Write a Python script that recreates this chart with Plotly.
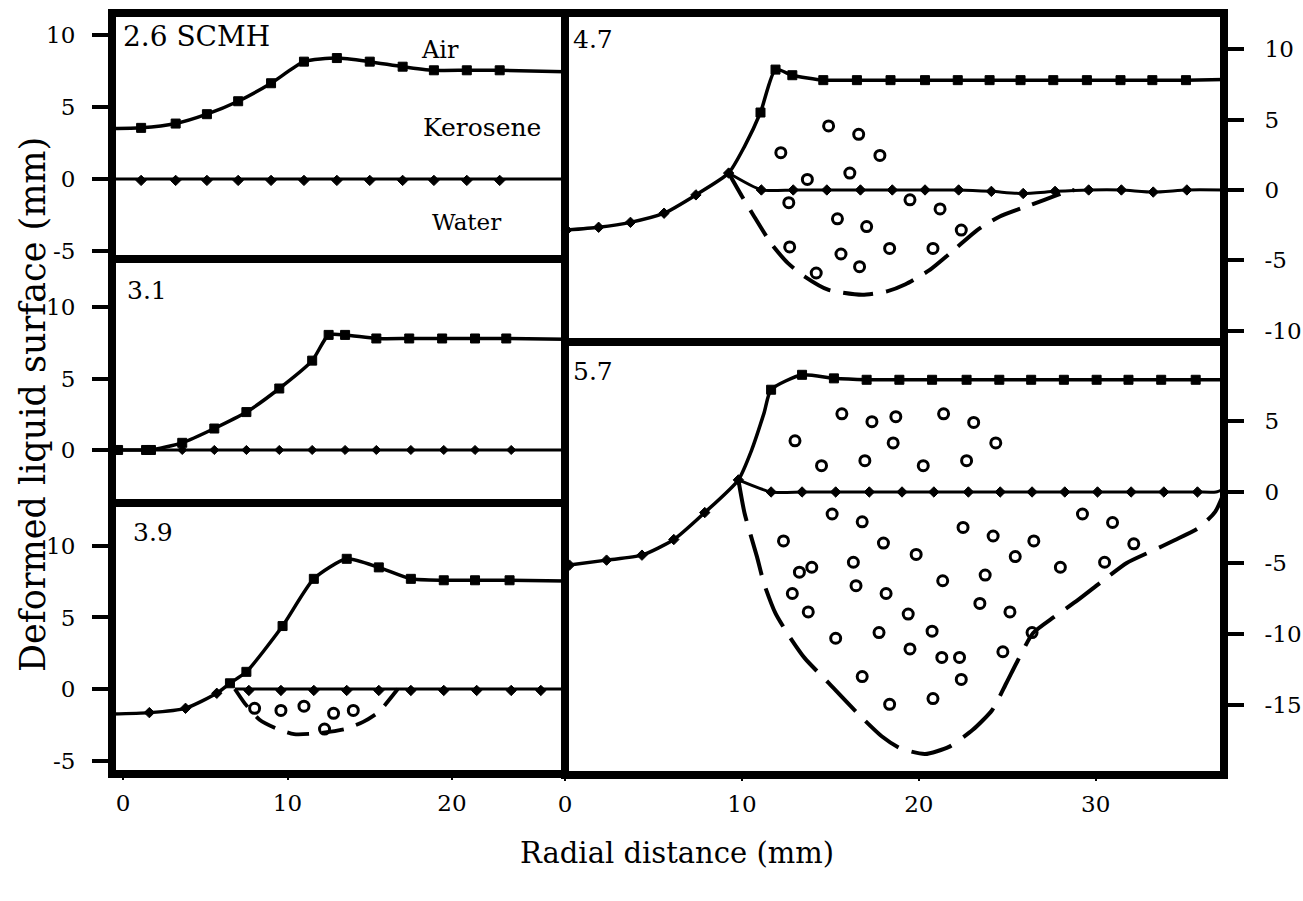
import plotly.graph_objects as go

W, H = 1303, 901
FONT = "DejaVu Serif"

# ---------------- data (mm) ----------------
# Panel 1 : 2.6 SCMH
P1_AIR_X = [-0.7, 1.1, 3.2, 5.1, 7.0, 9.0, 11.0, 13.0, 15.0, 17.0, 18.9, 20.9, 22.9]
P1_AIR_Y = [3.5, 3.55, 3.85, 4.5, 5.4, 6.65, 8.15, 8.4, 8.15, 7.8, 7.55, 7.55, 7.55]
P1_AIR_END_X = [26.9]
P1_AIR_END_Y = [7.45]
P1_WATER_X = [-0.7, 1.1, 3.2, 5.1, 7.0, 9.0, 11.0, 13.0, 15.0, 17.0, 18.9, 20.9, 22.9]
P1_WATER_Y = [-0.1, -0.1, -0.1, -0.1, -0.1, -0.1, -0.1, -0.1, -0.1, -0.1, -0.1, -0.1, -0.1]
P1_WATER_LINE_X = [-0.7, 26.9]
P1_WATER_LINE_Y = [0.0, 0.0]

# Panel 2 : 3.1
P2_AIR_X = [-0.3, 1.4, 1.7, 3.6, 5.55, 7.5, 9.5, 11.5, 12.5, 13.5, 15.4, 17.4, 19.4, 21.4, 23.3]
P2_AIR_Y = [0.0, 0.0, 0.0, 0.5, 1.5, 2.65, 4.3, 6.25, 8.05, 8.05, 7.8, 7.8, 7.8, 7.8, 7.8]
P2_AIR_END_X = [26.9]
P2_AIR_END_Y = [7.75]
P2_WATER_X = [-0.3, 1.4, 3.6, 5.55, 7.5, 9.5, 11.5, 13.5, 15.4, 17.5, 19.5, 21.4, 23.6]
P2_WATER_Y = [0.0, 0.0, 0.0, 0.0, 0.0, 0.0, 0.0, 0.0, 0.0, 0.0, 0.0, 0.0, 0.0]
P2_WATER_LINE_X = [-0.7, 26.9]
P2_WATER_LINE_Y = [0.0, 0.0]

# Panel 3 : 3.9
P3_START_X = [-0.7]
P3_START_Y = [-1.75]
P3_LOW_X = [1.6, 3.8, 5.7]
P3_LOW_Y = [-1.65, -1.35, -0.3]
P3_AIR_X = [6.5, 7.5, 9.7, 11.6, 13.6, 15.55, 17.5, 19.5, 21.4, 23.5]
P3_AIR_Y = [0.4, 1.2, 4.4, 7.7, 9.1, 8.5, 7.7, 7.6, 7.6, 7.6]
P3_AIR_END_X = [26.9]
P3_AIR_END_Y = [7.55]
P3_WATER_X = [7.65, 9.6, 11.6, 13.6, 15.55, 17.5, 19.5, 21.5, 23.6, 25.4]
P3_WATER_Y = [-0.1, -0.1, -0.1, -0.1, -0.1, -0.1, -0.1, -0.1, -0.1, -0.1]
P3_WATER_LINE_X = [6.8, 26.9]
P3_WATER_LINE_Y = [0.0, 0.0]
P3_DASH_X = [6.8, 7.4, 8.3, 9.3, 10.4, 11.8, 13.5, 14.6, 15.55, 16.5, 16.7]
P3_DASH_Y = [0.0, -1.0, -2.15, -2.75, -3.15, -3.1, -2.8, -2.3, -1.6, -0.3, 0.0]
P3_DROP_X = [8.0, 9.6, 11.0, 12.8, 14.0, 12.25]
P3_DROP_Y = [-1.35, -1.5, -1.2, -1.7, -1.5, -2.8]

# Panel 4 : 4.7
P4_LOW_X = [0.1, 1.9, 3.7, 5.6, 7.4, 9.25]
P4_LOW_Y = [-2.85, -2.65, -2.3, -1.65, -0.35, 1.2]
P4_RISE_X = [10.15]
P4_RISE_Y = [3.1]
P4_AIR_X = [11.05, 11.9, 12.85, 14.6, 16.5, 18.4, 20.35, 22.2, 24.0, 25.75, 27.6, 29.5, 31.4, 33.2, 35.1]
P4_AIR_Y = [5.5, 8.55, 8.15, 7.8, 7.8, 7.8, 7.8, 7.8, 7.8, 7.8, 7.8, 7.8, 7.8, 7.8, 7.8]
P4_AIR_END_X = [37.25]
P4_AIR_END_Y = [7.85]
P4_WATER_X = [11.1, 12.9, 14.8, 16.7, 18.5, 20.35, 22.25, 24.1, 25.9, 27.7, 29.6, 31.45, 33.25, 35.15]
P4_WATER_Y = [0.0, 0.0, 0.0, 0.0, 0.0, 0.0, 0.0, -0.1, -0.25, -0.1, 0.0, 0.0, -0.15, 0.0]
P4_WATER_END_X = [37.25]
P4_WATER_END_Y = [0.0]
P4_DASH_X = [9.25, 10.0, 10.7, 11.65, 12.6, 13.55, 14.9, 16.8, 18.2, 19.25, 20.6, 22.0, 23.3,
             24.55, 25.8, 27.1, 28.4, 28.8]
P4_DASH_Y = [1.2, -0.45, -1.9, -3.8, -5.2, -6.15, -7.1, -7.45, -7.2, -6.7, -5.7, -4.25, -2.85,
             -1.9, -1.3, -0.7, -0.1, 0.0]
P4_DROP_X = [14.9, 16.6, 12.2, 17.8, 13.7, 16.1, 12.65, 19.5, 21.2, 15.4, 17.05, 22.4,
             12.7, 15.6, 18.35, 20.8, 16.65, 14.2]
P4_DROP_Y = [4.55, 3.95, 2.65, 2.45, 0.75, 1.2, -0.9, -0.7, -1.35, -2.05, -2.6, -2.85,
             -4.05, -4.55, -4.15, -4.15, -5.45, -5.9]

# Panel 5 : 5.7
P5_LOW_X = [0.25, 2.35, 4.35, 6.15, 7.9, 9.8]
P5_LOW_Y = [-5.15, -4.8, -4.45, -3.35, -1.45, 0.85]
P5_RISE_X = [10.55, 11.25]
P5_RISE_Y = [2.95, 5.55]
P5_AIR_X = [11.65, 13.4, 15.2, 17.05, 18.9, 20.75, 22.7, 24.55, 26.35, 28.2, 30.05, 31.85, 33.7, 35.65]
P5_AIR_Y = [7.2, 8.25, 8.0, 7.9, 7.9, 7.9, 7.9, 7.9, 7.9, 7.9, 7.9, 7.9, 7.9, 7.9]
P5_AIR_END_X = [37.25]
P5_AIR_END_Y = [7.9]
P5_WATER_X = [11.65, 13.4, 15.3, 17.2, 19.05, 20.85, 22.8, 24.6, 26.4, 28.25, 30.1, 32.0, 33.85, 35.75]
P5_WATER_Y = [0.0, 0.0, 0.0, 0.0, 0.0, 0.0, 0.0, 0.0, 0.0, 0.0, 0.0, 0.0, 0.0, 0.0]
P5_WATER_END_X = [36.8, 37.25]
P5_WATER_END_Y = [0.0, 0.2]
P5_DASH_X = [9.8, 10.15, 10.85, 11.25, 11.9, 12.7, 13.55, 14.9, 16.55, 17.9, 18.95, 20.35, 21.7,
             23.05, 24.15, 24.95, 25.6, 26.45, 27.65, 29.0, 30.35, 31.75, 33.1, 34.45, 35.8,
             36.75, 37.15]
P5_DASH_Y = [0.85, -1.5, -4.55, -6.45, -8.55, -10.2, -11.7, -13.45, -15.6, -17.2, -18.05, -18.45,
             -17.95, -16.75, -15.35, -13.45, -11.85, -9.95, -8.8, -7.6, -6.3, -5.0, -4.2, -3.4,
             -2.55, -1.4, -0.35]
P5_DROP_X = [15.65, 17.35, 18.7, 21.4, 23.1, 13.0, 18.55, 24.35, 14.5, 16.95, 20.25, 22.7,
             15.1, 16.8, 22.5, 24.2, 26.5, 29.25, 30.95, 32.15, 12.35, 18.0, 19.85, 25.45,
             16.3, 13.25, 13.95, 23.75, 21.35, 28.0, 30.5, 16.45, 18.15, 12.85, 13.75, 23.45,
             25.15, 19.4, 15.3, 17.75, 20.75, 26.4, 19.5, 21.3, 22.3, 24.75, 16.8, 22.4,
             18.35, 20.8]
P5_DROP_Y = [5.5, 4.95, 5.3, 5.5, 4.9, 3.6, 3.45, 3.45, 1.85, 2.2, 1.85, 2.2,
             -1.55, -2.1, -2.5, -3.1, -3.45, -1.55, -2.15, -3.65, -3.45, -3.6, -4.4, -4.55,
             -4.95, -5.65, -5.3, -5.85, -6.25, -5.3, -4.95, -6.6, -7.15, -7.15, -8.45, -7.85,
             -8.45, -8.6, -10.3, -9.9, -9.8, -9.9, -11.05, -11.65, -11.65, -11.25, -13.0, -13.2,
             -14.95, -14.55]

LEFT_XTICKS = [0, 10, 20]
RIGHT_XTICKS = [0, 10, 20, 30]
P1_YTICKS = [10, 5, 0, -5]
P2_YTICKS = [10, 5, 0]
P3_YTICKS = [10, 5, 0, -5]
P4_YTICKS = [10, 5, 0, -5, -10]
P5_YTICKS = [5, 0, -5, -10, -15, -20]

# ---------------- layout geometry (pixels, frame-line centres) ----------------
LX0, LX1 = 112, 565
RX0, RX1 = 565, 1224
P1_Y = (13, 259)
P2_Y = (259, 503)
P3_Y = (503, 774)
P4_Y = (13, 342)
P5_Y = (342, 775)
FRAME_W = 8


def xdom(a, b):
    return [a / W, b / W]


def ydom(t):
    return [1 - t[1] / H, 1 - t[0] / H]


fig = go.Figure()


def add_line(ax, x, y, width=3.5, dash=None):
    fig.add_trace(go.Scatter(
        x=x, y=y, mode="lines", xaxis="x" + ax, yaxis="y" + ax,
        line=dict(color="black", width=width, shape="spline", smoothing=0.6, dash=dash),
        hoverinfo="skip", showlegend=False))


def add_markers(ax, x, y, symbol, size, open_=False):
    if open_:
        marker = dict(symbol=symbol, size=size, color="black", line=dict(color="black", width=3))
    else:
        marker = dict(symbol=symbol, size=size, color="black", line=dict(color="black", width=1))
    fig.add_trace(go.Scatter(
        x=x, y=y, mode="markers", xaxis="x" + ax, yaxis="y" + ax, marker=marker,
        hoverinfo="skip", showlegend=False, cliponaxis=False))


# Panel 1
add_line("", P1_WATER_LINE_X, P1_WATER_LINE_Y, width=3)
add_line("", P1_AIR_X + P1_AIR_END_X, P1_AIR_Y + P1_AIR_END_Y)
add_markers("", P1_AIR_X, P1_AIR_Y, "square", 9)
add_markers("", P1_WATER_X, P1_WATER_Y, "diamond", 8)

# Panel 2
add_line("2", P2_WATER_LINE_X, P2_WATER_LINE_Y, width=3)
add_line("2", P2_AIR_X + P2_AIR_END_X, P2_AIR_Y + P2_AIR_END_Y)
add_markers("2", P2_AIR_X, P2_AIR_Y, "square", 9)
add_markers("2", P2_WATER_X, P2_WATER_Y, "diamond", 7)

# Panel 3
add_line("3", P3_WATER_LINE_X, P3_WATER_LINE_Y, width=3)
add_line("3", P3_START_X + P3_LOW_X + P3_AIR_X + P3_AIR_END_X,
         P3_START_Y + P3_LOW_Y + P3_AIR_Y + P3_AIR_END_Y)
add_line("3", P3_DASH_X, P3_DASH_Y, width=3.8, dash="22px,13px")
add_markers("3", P3_AIR_X, P3_AIR_Y, "square", 9)
add_markers("3", P3_LOW_X, P3_LOW_Y, "diamond", 8)
add_markers("3", P3_WATER_X, P3_WATER_Y, "diamond", 8)
add_markers("3", P3_DROP_X, P3_DROP_Y, "circle-open", 10, open_=True)

# Panel 4
add_line("4", [P4_LOW_X[-1]] + P4_WATER_X + P4_WATER_END_X,
         [P4_LOW_Y[-1]] + P4_WATER_Y + P4_WATER_END_Y, width=3)
add_line("4", P4_LOW_X + P4_RISE_X + P4_AIR_X + P4_AIR_END_X,
         P4_LOW_Y + P4_RISE_Y + P4_AIR_Y + P4_AIR_END_Y)
add_line("4", P4_DASH_X, P4_DASH_Y, width=4, dash="30px,13px")
add_markers("4", P4_AIR_X, P4_AIR_Y, "square", 9)
add_markers("4", P4_LOW_X, P4_LOW_Y, "diamond", 8)
add_markers("4", P4_WATER_X, P4_WATER_Y, "diamond", 8)
add_markers("4", P4_DROP_X, P4_DROP_Y, "circle-open", 10, open_=True)

# Panel 5
add_line("5", [P5_LOW_X[-1]] + P5_WATER_X + P5_WATER_END_X,
         [P5_LOW_Y[-1]] + P5_WATER_Y + P5_WATER_END_Y, width=3)
add_line("5", P5_LOW_X + P5_RISE_X + P5_AIR_X + P5_AIR_END_X,
         P5_LOW_Y + P5_RISE_Y + P5_AIR_Y + P5_AIR_END_Y)
add_line("5", P5_DASH_X, P5_DASH_Y, width=4, dash="42px,14px")
add_markers("5", P5_AIR_X, P5_AIR_Y, "square", 9)
add_markers("5", P5_LOW_X, P5_LOW_Y, "diamond", 8)
add_markers("5", P5_WATER_X, P5_WATER_Y, "diamond", 8)
add_markers("5", P5_DROP_X, P5_DROP_Y, "circle-open", 10, open_=True)

base = dict(showline=False, showgrid=False, zeroline=False, automargin=False)
tickfont = dict(family=FONT, size=23, color="black")


def xax(dom, rng, anchor, ticks=None):
    d = dict(base, domain=dom, range=rng, anchor=anchor)
    if ticks is None:
        d.update(showticklabels=False, ticks="")
    else:
        d.update(tickvals=ticks, ticktext=[str(t) for t in ticks], ticks="outside",
                 ticklen=5, tickwidth=2, tickcolor="black", tickfont=tickfont,
                 ticklabelstandoff=3)
    return d


def yax(dom, rng, anchor, ticks, side, standoff):
    return dict(base, domain=dom, range=rng, anchor=anchor, side=side,
                tickvals=ticks, ticktext=[str(t) for t in ticks], ticks="outside",
                ticklen=19, tickwidth=3.5, tickcolor="black", tickfont=tickfont,
                ticklabelstandoff=standoff)


L = xdom(LX0, LX1)
R = xdom(RX0, RX1)
LXR = [-0.67, 26.87]
RXR = [0.0, 37.25]

shapes = []
for (x0, x1), (ya, yb) in [((LX0, LX1), P1_Y), ((LX0, LX1), P2_Y), ((LX0, LX1), P3_Y),
                           ((RX0, RX1), P4_Y), ((RX0, RX1), P5_Y)]:
    shapes.append(dict(type="rect", xref="paper", yref="paper",
                       x0=x0 / W, x1=x1 / W, y0=1 - yb / H, y1=1 - ya / H,
                       line=dict(color="black", width=FRAME_W), fillcolor="rgba(0,0,0,0)",
                       layer="above"))

fig.update_layout(
    width=W, height=H, margin=dict(l=0, r=0, t=0, b=0, autoexpand=False),
    paper_bgcolor="white", plot_bgcolor="white", showlegend=False,
    shapes=shapes,
    xaxis=xax(L, LXR, "y"),
    yaxis=yax(ydom(P1_Y), [-5.56, 11.53], "x", P1_YTICKS, "left", 12),
    xaxis2=xax(L, LXR, "y2"),
    yaxis2=yax(ydom(P2_Y), [-3.71, 13.36], "x2", P2_YTICKS, "left", 12),
    xaxis3=xax(L, LXR, "y3", LEFT_XTICKS),
    yaxis3=yax(ydom(P3_Y), [-5.94, 13.0], "x3", P3_YTICKS, "left", 12),
    xaxis4=xax(R, RXR, "y4"),
    yaxis4=yax(ydom(P4_Y), [-10.8, 12.57], "x4", P4_YTICKS, "right", 16),
    xaxis5=xax(R, RXR, "y5", RIGHT_XTICKS),
    yaxis5=yax(ydom(P5_Y), [-19.93, 10.56], "x5", P5_YTICKS, "right", 16),
)


def note(text, px, py, size, xanchor="left", angle=0):
    fig.add_annotation(text=text, x=px / W, y=1 - py / H, xref="paper", yref="paper",
                       xanchor=xanchor, yanchor="middle", showarrow=False, textangle=angle,
                       font=dict(family=FONT, size=size, color="black"))


note("2.6 SCMH", 121, 36, 28)
note("Air", 440, 50, 24, "center")
note("Kerosene", 482, 128, 25, "center")
note("Water", 466, 222, 23, "center")
note("3.1", 125, 291, 25)
note("3.9", 131, 532, 25)
note("4.7", 571, 39, 25)
note("5.7", 571, 371, 25)
note("Deformed liquid surface (mm)", 33, 405, 35, "center", -90)
note("Radial distance (mm)", 677, 853, 29, "center")

fig.write_html(
    "out.html",
    config={"displayModeBar": False},
    post_script="document.body.style.margin='0';document.body.style.padding='0';"
                "document.documentElement.style.overflow='hidden';",
)
